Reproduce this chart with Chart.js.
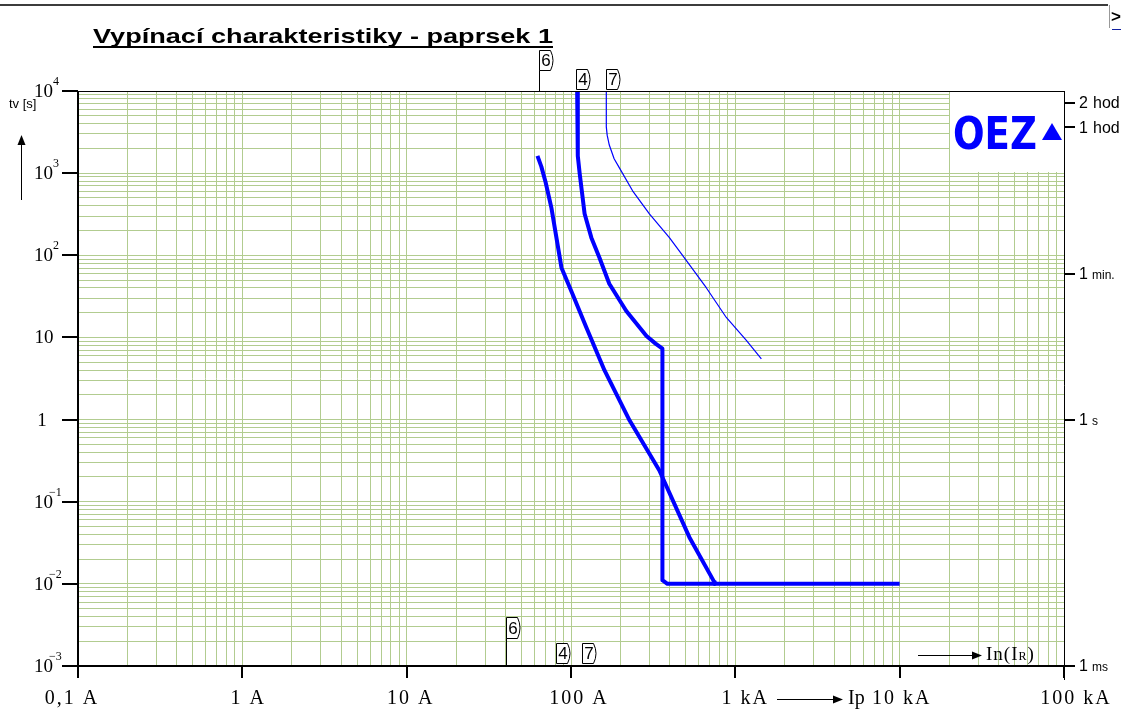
<!DOCTYPE html>
<html>
<head>
<meta charset="utf-8">
<script src="https://cdn.jsdelivr.net/npm/chart.js@4.4.1/dist/chart.umd.min.js"></script>
<style>
  html, body { margin: 0; padding: 0; background: #fff; overflow: hidden; }
  canvas { display: block; }
</style>
</head>
<body>
<canvas id="chart" width="1126" height="711"></canvas>
<script>
// Axis decades and their labels
const xDecades = [0.1, 1, 10, 100, 1000, 10000, 100000];
const xDecadeLabels = ['0,1 A', '1 A', '10 A', '100 A', '1 kA', '10 kA', '100 kA'];
const yDecades = [1e4, 1e3, 1e2, 10, 1, 0.1, 0.01, 0.001];
const yLabelBase = ['10', '10', '10', '10', '1', '10', '10', '10'];
const yLabelExp = ['4', '3', '2', '', '', '-1', '-2', '-3'];

// Time marks on the right-hand axis [s]
const rightTimes = [7200, 3600, 60, 1, 0.001];
const rightNumbers = ['2', '1', '1', '1', '1'];
const rightUnits = ['hod', 'hod', 'min.', 's', 'ms'];

// Tripping characteristic 6 (fuse) – current [A], time [s]
const curve6Current = [62.5, 66, 70, 76, 87.5, 102, 124, 160, 227, 345, 525, 745, 750];
const curve6Time = [1620, 1200, 780, 378, 70.6, 34, 13.2, 3.96, 0.98, 0.24, 0.037, 0.0105, 0.01];

// Tripping characteristic 4 (breaker) – current [A], time [s]
const curve4Current = [109, 110, 113, 121, 133, 149, 171, 217, 288, 327, 360, 360, 386, 10000];
const curve4Time = [10000, 1620, 980, 320, 164, 93.5, 45, 21, 10.4, 8.4, 7.3, 0.0111, 0.01, 0.01];

// Tripping characteristic 7 (thin) – current [A], time [s]
const curve7Current = [164, 164, 166, 171, 183, 197, 237, 300, 397, 504, 667, 881, 1167, 1440];
const curve7Time = [10000, 3660, 2900, 2200, 1500, 1160, 610, 320, 164, 86, 40, 17.5, 9.2, 5.5];

// Numbered markers: rated currents (top) and currents at the bottom edge [A]
const topMarkerLabels = ['6', '4', '7'];
const topMarkerCurrent = [64, 108, 164];
const bottomMarkerLabels = ['6', '4', '7'];
const bottomMarkerCurrent = [40.5, 80.5, 117];

const gridColor = 'rgb(178,204,144)';
const curveBlue = '#0000ff';

function decadeGrid(min, max) {
  const ticks = [];
  const lo = Math.round(Math.log10(min)), hi = Math.round(Math.log10(max));
  for (let e = lo; e < hi; e++) {
    for (let m = 1; m <= 9; m++) ticks.push({ value: m * Math.pow(10, e) });
  }
  ticks.push({ value: max });
  return ticks;
}

function points(cs, ts) { return cs.map((c, i) => ({ x: c, y: ts[i] })); }

function crisp(v, w) { return (Math.round(w) % 2) ? Math.floor(v) + 0.5 : Math.round(v); }

function seg(ctx, x1, y1, x2, y2, w, color) {
  ctx.beginPath();
  ctx.lineWidth = w;
  ctx.strokeStyle = color;
  if (y1 === y2) { y1 = y2 = crisp(y1, w); }
  if (x1 === x2) { x1 = x2 = crisp(x1, w); }
  ctx.moveTo(x1, y1);
  ctx.lineTo(x2, y2);
  ctx.stroke();
}

function arrowRight(ctx, x1, x2, yy) {
  seg(ctx, x1, yy, x2 - 8, yy, 1, '#000');
  ctx.beginPath();
  ctx.fillStyle = '#000';
  ctx.moveTo(x2, yy + 0.5);
  ctx.lineTo(x2 - 10, yy - 3.5);
  ctx.lineTo(x2 - 10, yy + 4.5);
  ctx.closePath();
  ctx.fill();
}

function markerBox(ctx, left, top, h, label) {
  const w = 15;
  const l = Math.round(left) + 0.5, t = top + 0.5, b = top + h + 0.5;
  ctx.beginPath();
  ctx.lineWidth = 1;
  ctx.strokeStyle = '#000';
  ctx.moveTo(l, b);
  ctx.lineTo(l, t);
  ctx.lineTo(l + w - 4, t);
  ctx.quadraticCurveTo(l + w + 1, (t + b) / 2, l + w - 4, b);
  ctx.lineTo(l, b);
  ctx.fillStyle = '#fff';
  ctx.fill();
  ctx.stroke();
  ctx.fillStyle = '#000';
  ctx.font = '17px "Liberation Sans"';
  ctx.textAlign = 'center';
  ctx.textBaseline = 'middle';
  ctx.fillText(label, l + 6.5, (t + b) / 2 + 1);
}

const decorations = {
  id: 'decorations',
  beforeDatasetsDraw(chart) {
    const { ctx, chartArea: a } = chart;
    // white panel for the company logo in the upper right corner
    ctx.save();
    ctx.fillStyle = '#fff';
    ctx.fillRect(a.right - 114, a.top, 114, 81);
    ctx.restore();
  },
  afterDraw(chart) {
    const { ctx, chartArea: a, scales: { x, y } } = chart;
    ctx.save();

    // window header line and the scroll button at the top right
    seg(ctx, 0, 5, 1108, 5, 2, '#3c3c3c');
    seg(ctx, 1109, 5, 1109, 28, 1, '#999');
    ctx.fillStyle = '#000';
    ctx.font = 'bold 17px "Liberation Sans"';
    ctx.textAlign = 'left';
    ctx.textBaseline = 'middle';
    ctx.fillText('>', 1111, 17);
    seg(ctx, 1112, 29, 1121, 29, 1, '#1020a0');

    // title, bold and underlined
    const title = 'Vypínací charakteristiky - paprsek 1';
    ctx.font = 'bold 21px "Liberation Sans"';
    const tw = ctx.measureText(title).width;
    ctx.save();
    ctx.translate(93, 43);
    ctx.scale(460 / tw, 1);
    ctx.textBaseline = 'alphabetic';
    ctx.fillText(title, 0, 0);
    ctx.restore();
    seg(ctx, 93, 47, 553, 47, 2, '#000');

    // plot frame
    seg(ctx, a.left - 16, a.top, a.right, a.top, 1, '#000');
    seg(ctx, a.left, a.top, a.left, a.bottom + 12, 2, '#000');
    seg(ctx, a.left - 16, a.bottom, a.right + 11, a.bottom, 2, '#000');
    seg(ctx, a.right, a.top, a.right, a.bottom + 14, 1, '#000');

    // left axis: decade ticks and labels
    yDecades.forEach((v, i) => {
      const py = y.getPixelForValue(v);
      seg(ctx, a.left - 16, py, a.left, py, 2, '#000');
      ctx.fillStyle = '#000';
      ctx.textBaseline = 'middle';
      if (yLabelExp[i]) {
        ctx.font = '19px "Liberation Serif"';
        ctx.textAlign = 'right';
        ctx.fillText(yLabelBase[i], 53, py + 1);
        ctx.font = '12px "Liberation Serif"';
        ctx.textAlign = 'left';
        const ex = yLabelExp[i].replace('-', '\u2212');
        ctx.fillText(ex, yLabelExp[i].length > 1 ? 49 : 53, py - 9);
      } else {
        ctx.font = '19px "Liberation Serif"';
        ctx.textAlign = 'center';
        ctx.fillText(yLabelBase[i], yLabelBase[i].length > 1 ? 44 : 42, py + 1);
      }
    });

    // axis title tv [s] with the upward arrow
    ctx.font = '13px "Liberation Sans"';
    ctx.textAlign = 'left';
    ctx.fillText('tv [s]', 9, 104);
    seg(ctx, 21, 200, 21, 143, 1, '#000');
    ctx.beginPath();
    ctx.fillStyle = '#000';
    ctx.moveTo(21.5, 135);
    ctx.lineTo(17.5, 145);
    ctx.lineTo(25.5, 145);
    ctx.closePath();
    ctx.fill();

    // bottom axis: decade ticks and labels
    const nudges = [-6, 6, 4, 8, 10, 2, 12];
    ctx.font = '20px "Liberation Serif"';
    ctx.letterSpacing = '2px';
    ctx.textAlign = 'center';
    ctx.textBaseline = 'middle';
    xDecades.forEach((v, i) => {
      const px = x.getPixelForValue(v);
      seg(ctx, px, a.bottom, px, a.bottom + 12, 2, '#000');
      ctx.fillStyle = '#000';
      ctx.fillText(xDecadeLabels[i], px + nudges[i], 699);
    });
    ctx.letterSpacing = '0px';

    // current arrow between 1 kA and 10 kA
    arrowRight(ctx, 777, 843, 699);
    ctx.font = '20px "Liberation Serif"';
    ctx.textAlign = 'left';
    ctx.fillText('Ip', 848, 699);

    // In(IR) caption with arrow at the lower right of the plot
    arrowRight(ctx, 918, 982, 655);
    ctx.font = '19px "Liberation Serif"';
    ctx.letterSpacing = '1px';
    ctx.textAlign = 'left';
    let cx = 986;
    ctx.fillText('In(I', cx, 655);
    cx += ctx.measureText('In(I').width;
    ctx.font = '12px "Liberation Serif"';
    ctx.fillText('R', cx, 657);
    cx += ctx.measureText('R').width;
    ctx.font = '19px "Liberation Serif"';
    ctx.fillText(')', cx, 655);
    ctx.letterSpacing = '0px';

    // right axis: time marks
    rightTimes.forEach((v, i) => {
      const py = y.getPixelForValue(v);
      seg(ctx, a.right, py, a.right + 11, py, 2, '#000');
      ctx.fillStyle = '#000';
      ctx.textAlign = 'left';
      ctx.textBaseline = 'middle';
      ctx.font = '16px "Liberation Sans"';
      ctx.fillText(rightNumbers[i], 1079, py + 1);
      const big = rightUnits[i] === 'hod';
      ctx.font = big ? '16px "Liberation Sans"' : '12px "Liberation Sans"';
      ctx.fillText(rightUnits[i], big ? 1093 : 1092, py + (big ? 1 : 2));
    });

    // numbered markers at the top edge
    topMarkerCurrent.forEach((c, i) => {
      const px = x.getPixelForValue(c);
      const top = i === 0 ? 50 : 69;
      if (i === 0) seg(ctx, px, top + 20, px, a.top, 1, '#000');
      markerBox(ctx, px, top, 20, topMarkerLabels[i]);
    });

    // numbered markers at the bottom edge
    bottomMarkerCurrent.forEach((c, i) => {
      const px = x.getPixelForValue(c);
      const top = i === 0 ? 617 : 643;
      const h = i === 0 ? 21 : 20;
      if (i === 0) seg(ctx, px, top + h, px, a.bottom, 1, '#000');
      markerBox(ctx, px, top, h, bottomMarkerLabels[i]);
    });

    // OEZ logo
    ctx.fillStyle = curveBlue;
    ctx.font = '900 46px "DejaVu Sans"';
    ctx.textAlign = 'left';
    ctx.textBaseline = 'alphabetic';
    const lw = ctx.measureText('OEZ').width;
    ctx.save();
    ctx.translate(a.right - 111, 149);
    ctx.scale(84 / lw, 0.96);
    ctx.fillText('OEZ', 0, 0);
    ctx.restore();
    ctx.beginPath();
    ctx.moveTo(a.right - 22, 140);
    ctx.lineTo(a.right - 2, 140);
    ctx.lineTo(a.right - 12, 123);
    ctx.closePath();
    ctx.fill();

    ctx.restore();
  }
};

const lineStyle = (width) => ({
  borderColor: curveBlue,
  backgroundColor: curveBlue,
  borderWidth: width,
  pointRadius: 0,
  pointHoverRadius: 0,
  tension: 0,
  fill: false,
  borderJoinStyle: 'round',
  borderCapStyle: 'butt'
});

new Chart(document.getElementById('chart'), {
  type: 'line',
  data: {
    datasets: [
      { label: '6', data: points(curve6Current, curve6Time), ...lineStyle(4) },
      { label: '4', data: points(curve4Current, curve4Time), ...lineStyle(4) },
      { label: '7', data: points(curve7Current, curve7Time), ...lineStyle(1.2) }
    ]
  },
  options: {
    responsive: false,
    animation: false,
    devicePixelRatio: 1,
    layout: { padding: { left: 78, right: 62, top: 91, bottom: 45 } },
    plugins: { legend: { display: false }, tooltip: { enabled: false }, title: { display: false } },
    events: [],
    scales: {
      x: {
        type: 'logarithmic',
        min: 0.1,
        max: 100000,
        afterBuildTicks: (s) => { s.ticks = decadeGrid(0.1, 100000); },
        afterFit: (s) => { s.height = 0; },
        ticks: { display: false },
        grid: { color: gridColor, lineWidth: 1, drawTicks: false },
        border: { display: false }
      },
      y: {
        type: 'logarithmic',
        min: 0.001,
        max: 10000,
        afterBuildTicks: (s) => { s.ticks = decadeGrid(0.001, 10000); },
        afterFit: (s) => { s.width = 0; },
        ticks: { display: false },
        grid: { color: gridColor, lineWidth: 1, drawTicks: false },
        border: { display: false }
      }
    }
  },
  plugins: [decorations]
});
</script>
</body>
</html>
